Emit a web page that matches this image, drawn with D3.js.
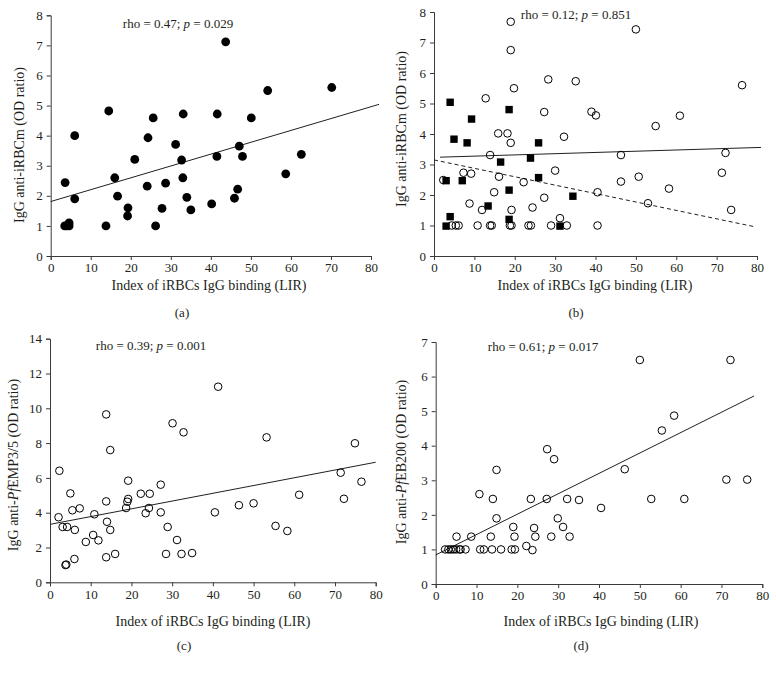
<!DOCTYPE html>
<html>
<head>
<meta charset="utf-8">
<script src="https://cdn.jsdelivr.net/npm/d3@7"></script>
<style>
  body { margin: 0; background: #fff; }
  text { font-family: "Liberation Serif", "DejaVu Serif", serif; fill: #231f20; }
</style>
</head>
<body>
<div id="chart"></div>
<script>
const w = 776;
const h = 673;

// x axis is the same for all four panels
const xTicks = [0, 10, 20, 30, 40, 50, 60, 70, 80];
const xTitle = "Index of iRBCs IgG binding (LIR)";

// (a) anti-iRBCm, filled circles
const dataA = [
  [3.6, 2.44], [3.5, 1.0], [4.0, 1.0], [4.6, 1.1], [4.6, 1.0], [6.0, 4.0], [6.0, 1.9],
  [13.8, 1.0], [14.5, 4.82], [16.0, 2.6], [16.7, 1.99], [19.2, 1.33], [19.3, 1.6],
  [21.0, 3.21], [24.1, 2.32], [24.3, 3.93], [25.6, 4.59], [26.2, 1.0], [27.8, 1.58],
  [28.7, 2.42], [31.2, 3.71], [32.7, 3.19], [33.0, 2.6], [33.1, 4.72], [34.0, 1.95],
  [35.0, 1.53], [40.2, 1.73], [41.5, 3.31], [41.6, 4.72], [43.7, 7.12], [45.9, 1.92],
  [46.7, 2.22], [47.1, 3.65], [47.9, 3.31], [50.1, 4.59], [54.2, 5.5], [58.7, 2.73],
  [62.6, 3.38], [70.2, 5.6]
];
const trendA = [[0, 1.81], [82, 5.04]];

// (b) anti-iRBCm, open circles and filled squares
const circlesB = [
  [19.0, 7.68], [50.0, 7.43], [19.0, 6.75], [28.3, 5.79], [35.1, 5.73], [19.8, 5.5],
  [76.3, 5.6], [12.8, 5.17], [27.3, 4.72], [39.0, 4.73], [40.1, 4.61], [60.9, 4.6],
  [54.9, 4.26], [15.9, 4.02], [18.2, 4.02], [19.0, 3.71], [32.2, 3.91], [13.9, 3.31],
  [46.3, 3.31], [72.2, 3.38], [71.3, 2.73], [50.7, 2.6], [46.3, 2.44], [2.3, 2.49],
  [7.3, 2.73], [9.2, 2.7], [16.1, 2.6], [22.2, 2.42], [30.0, 2.8], [14.9, 2.09],
  [40.5, 2.09], [58.2, 2.21], [8.8, 1.72], [53.0, 1.73], [11.9, 1.51], [19.2, 1.51],
  [24.4, 1.59], [27.3, 1.91], [73.6, 1.51], [31.2, 1.24],
  [4.4, 1.0], [5.4, 1.0], [6.1, 1.0], [10.8, 1.0], [13.9, 1.0], [14.3, 1.0], [18.8, 1.0],
  [19.2, 1.0], [23.4, 1.0], [24.0, 1.0], [29.0, 1.0], [32.9, 1.0], [40.5, 1.0]
];
const squaresB = [
  [4.0, 5.04], [9.3, 4.49], [18.6, 4.8], [4.95, 3.83], [8.2, 3.71], [25.9, 3.71],
  [16.5, 3.08], [23.9, 3.21], [25.9, 2.57], [3.0, 2.47], [7.0, 2.47], [18.6, 2.16],
  [34.4, 1.96], [13.4, 1.64], [4.0, 1.29], [3.0, 0.98], [18.6, 1.2], [31.2, 0.98]
];
const trendB = [[1.5, 3.24], [81, 3.56]];
const dashedB = [[0, 3.15], [79.4, 0.96]];

// (c) anti-PfEMP3/5
const dataC = [
  [30.1, 9.14], [32.8, 8.62], [14.8, 7.6], [2.3, 6.41], [19.2, 5.84], [27.2, 5.61],
  [5.0, 5.11], [22.3, 5.09], [24.5, 5.09], [13.8, 4.65], [19.2, 4.79], [19.0, 4.63],
  [18.7, 4.27], [7.3, 4.25], [5.5, 4.14], [24.3, 4.27], [2.1, 3.74], [10.9, 3.91],
  [23.5, 3.97], [27.2, 4.02], [40.5, 4.02], [46.4, 4.43], [3.1, 3.18], [4.2, 3.18],
  [6.1, 3.01], [14.0, 3.48], [14.8, 3.01], [28.9, 3.18], [10.6, 2.72], [11.9, 2.41],
  [8.8, 2.32], [31.2, 2.43], [6.0, 1.34], [13.8, 1.44], [16.0, 1.63], [28.5, 1.63],
  [32.3, 1.63], [34.9, 1.68], [3.8, 0.99], [4.0, 1.02],
  [13.8, 9.65], [41.3, 11.24], [53.2, 8.33], [74.9, 7.99], [71.4, 6.3], [76.5, 5.78],
  [61.2, 5.03], [72.2, 4.8], [50.0, 4.54], [55.4, 3.24], [58.3, 2.95]
];
const trendC = [[0, 3.33], [80, 6.9]];

// (d) anti-PfEB200
const dataD = [
  [14.9, 3.3], [10.7, 2.6], [14.0, 2.46], [23.3, 2.46], [27.2, 2.46], [32.2, 2.46],
  [35.1, 2.43], [40.5, 2.2], [14.9, 1.9], [29.9, 1.9], [19.0, 1.65], [24.1, 1.62],
  [31.2, 1.65], [5.1, 1.37], [8.7, 1.37], [13.5, 1.37], [19.3, 1.37], [24.4, 1.37],
  [28.3, 1.37], [32.8, 1.37], [22.2, 1.1], [23.7, 0.98],
  [2.3, 1.0], [3.1, 1.0], [3.7, 1.0], [4.3, 1.0], [5.0, 1.0], [5.8, 1.0], [6.1, 1.0],
  [7.3, 1.0], [10.9, 1.0], [11.8, 1.0], [13.8, 1.0], [16.0, 1.0], [18.6, 1.0], [19.4, 1.0],
  [50.0, 6.48], [72.2, 6.48], [58.4, 4.87], [55.4, 4.44], [27.3, 3.9], [29.0, 3.61],
  [46.3, 3.32], [71.2, 3.02], [76.3, 3.02], [52.8, 2.46], [60.9, 2.46]
];
const trendD = [[0, 0.84], [78, 5.44]];

const svg = d3.select('#chart')
  .append('svg')
  .attr('width', w)
  .attr('height', h);

function drawPanel(p) {
  const x = d3.scaleLinear().domain([0, 80]).range(p.xr);
  const y = d3.scaleLinear().domain([0, p.yMax]).range(p.yr);
  const g = svg.append('g');

  const xAxis = d3.axisBottom(x).tickValues(xTicks).tickSizeOuter(0).tickSize(4).tickPadding(3);
  const yAxis = d3.axisLeft(y).ticks(p.yMax / p.yStep).tickSizeOuter(0).tickSize(4).tickPadding(4);

  const gx = g.append('g')
    .attr('transform', 'translate(0,' + p.yr[0] + ')')
    .call(xAxis);
  const gy = g.append('g')
    .attr('transform', 'translate(' + p.xr[0] + ',0)')
    .call(yAxis);
  [gx, gy].forEach(a => {
    a.selectAll('path, line').attr('stroke', '#3a3a3a').attr('stroke-width', 1);
    a.selectAll('text')
      .attr('font-family', '"Liberation Serif", serif')
      .attr('font-size', '13px')
      .attr('fill', '#231f20');
  });

  const line = d3.line().x(d => x(d[0])).y(d => y(d[1]));
  p.lines.forEach(l => {
    g.append('path')
      .datum(l.data)
      .attr('d', line)
      .attr('fill', 'none')
      .attr('stroke', '#231f20')
      .attr('stroke-width', 1)
      .attr('stroke-dasharray', l.dash ? '4,3' : null);
  });

  if (p.filled) {
    g.selectAll('circle.f')
      .data(p.filled)
      .enter()
      .append('circle')
      .attr('cx', d => x(d[0]))
      .attr('cy', d => y(d[1]))
      .attr('r', 4.4)
      .attr('fill', '#000');
  }
  if (p.open) {
    g.selectAll('circle.o')
      .data(p.open)
      .enter()
      .append('circle')
      .attr('cx', d => x(d[0]))
      .attr('cy', d => y(d[1]))
      .attr('r', 3.8)
      .attr('fill', 'none')
      .attr('stroke', '#000')
      .attr('stroke-width', 1);
  }
  if (p.squares) {
    g.selectAll('rect')
      .data(p.squares)
      .enter()
      .append('rect')
      .attr('x', d => x(d[0]) - 3.7)
      .attr('y', d => y(d[1]) - 3.7)
      .attr('width', 7.4)
      .attr('height', 7.4)
      .attr('fill', '#000');
  }

  // rho / p annotation
  const t = g.append('text')
    .attr('x', p.rho.x)
    .attr('y', p.rho.y)
    .attr('text-anchor', 'middle')
    .attr('font-size', '13px');
  t.append('tspan').text('rho = ' + p.rho.r + '; ');
  t.append('tspan').attr('font-style', 'italic').text('p');
  t.append('tspan').text(' = ' + p.rho.p);

  g.append('text')
    .attr('x', p.xt[0])
    .attr('y', p.xt[1])
    .attr('text-anchor', 'middle')
    .attr('font-size', '14px')
    .text(xTitle);

  const yl = g.append('text')
    .attr('transform', 'translate(' + p.yt[0] + ',' + p.yt[1] + ') rotate(-90)')
    .attr('text-anchor', 'middle')
    .attr('font-size', '14px');
  p.yLabel.forEach(s => {
    yl.append('tspan').attr('font-style', s[1] ? 'italic' : null).text(s[0]);
  });

  g.append('text')
    .attr('x', p.cap[0])
    .attr('y', p.cap[1])
    .attr('text-anchor', 'middle')
    .attr('font-size', '13px')
    .text(p.caption);
}

drawPanel({
  xr: [50.7, 371], yr: [256, 15.3], yMax: 8, yStep: 1,
  filled: dataA,
  lines: [{ data: trendA }],
  rho: { x: 178, y: 28, r: '0.47', p: '0.029' },
  xt: [209, 290], yt: [24, 145], cap: [182, 317], caption: '(a)',
  yLabel: [['IgG anti-iRBCm (OD ratio)']]
});

drawPanel({
  xr: [434, 757], yr: [256, 12], yMax: 8, yStep: 1,
  open: circlesB, squares: squaresB,
  lines: [{ data: trendB }, { data: dashedB, dash: true }],
  rho: { x: 576, y: 19, r: '0.12', p: '0.851' },
  xt: [595, 290], yt: [406, 129], cap: [576, 317], caption: '(b)',
  yLabel: [['IgG anti-iRBCm (OD ratio)']]
});

drawPanel({
  xr: [50, 375.7], yr: [582.3, 338.7], yMax: 14, yStep: 2,
  open: dataC,
  lines: [{ data: trendC }],
  rho: { x: 151, y: 350, r: '0.39', p: '0.001' },
  xt: [213, 626], yt: [18, 465], cap: [184, 650], caption: '(c)',
  yLabel: [['IgG anti-'], ['Pf', true], ['EMP3/5 (OD ratio)']]
});

drawPanel({
  xr: [435.7, 762.3], yr: [584, 342], yMax: 7, yStep: 1,
  open: dataD,
  lines: [{ data: trendD }],
  rho: { x: 543, y: 351, r: '0.61', p: '0.017' },
  xt: [601, 626], yt: [406, 462], cap: [581, 650], caption: '(d)',
  yLabel: [['IgG anti-'], ['Pf', true], ['EB200 (OD ratio)']]
});
</script>
</body>
</html>
